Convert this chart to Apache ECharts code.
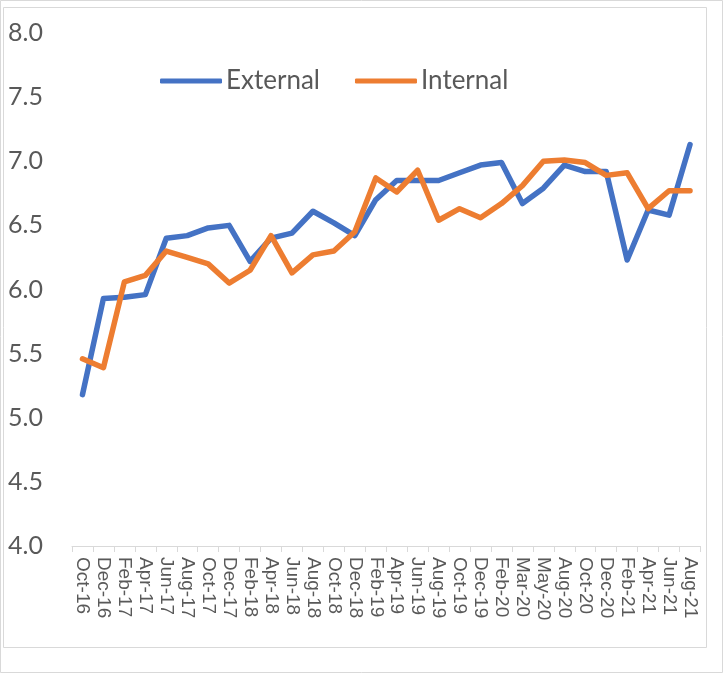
<!DOCTYPE html>
<html>
<head>
<meta charset="utf-8">
<script src="https://cdn.jsdelivr.net/npm/echarts@6/dist/echarts.min.js"></script>
<style>html,body{margin:0;padding:0;background:#fff}#c{width:723px;height:674px}</style>
</head>
<body>
<div id="c"></div>
<script>
var categories = ['Oct-16','Dec-16','Feb-17','Apr-17','Jun-17','Aug-17','Oct-17','Dec-17','Feb-18','Apr-18','Jun-18','Aug-18','Oct-18','Dec-18','Feb-19','Apr-19','Jun-19','Aug-19','Oct-19','Dec-19','Feb-20','Mar-20','May-20','Aug-20','Oct-20','Dec-20','Feb-21','Apr-21','Jun-21','Aug-21'];
var external = [5.18,5.93,5.94,5.96,6.40,6.42,6.48,6.50,6.22,6.40,6.44,6.61,6.52,6.42,6.70,6.85,6.85,6.85,6.91,6.97,6.99,6.67,6.79,6.97,6.92,6.92,6.23,6.62,6.58,7.13];
var internal = [5.46,5.39,6.06,6.11,6.30,6.25,6.20,6.05,6.15,6.42,6.13,6.27,6.30,6.45,6.87,6.76,6.93,6.54,6.63,6.56,6.67,6.81,7.00,7.01,6.99,6.89,6.91,6.63,6.77,6.77];
var yTicks = {min: 4.0, max: 8.0, interval: 0.5};

var chart = echarts.init(document.getElementById('c'));
chart.setOption({
  animation: false,
  backgroundColor: '#fff',
  graphic: [
    {type:'rect', shape:{x:0.5,y:0.5,width:722,height:672}, style:{fill:'none', stroke:'#d9d9d9', lineWidth:1}, silent:true},
    {type:'rect', shape:{x:3.5,y:7.5,width:703,height:640}, style:{fill:'none', stroke:'#d9d9d9', lineWidth:1}, silent:true}
  ],
  legend: {
    left: 160, top: 68, padding: 0,
    itemWidth: 62, itemHeight: 5, itemGap: 35,
    icon: 'roundRect',
    textStyle: {fontFamily: 'Lato', fontSize: 26, color: '#595959', padding:[0,0,0,-1]},
    data: [{name:'External', itemStyle:{color:'#4472C4'}}, {name:'Internal', itemStyle:{color:'#ED7D31'}}]
  },
  grid: {left: 72, right: 22.5, top: 33, bottom: 128, containLabel: false},
  xAxis: {
    type: 'category',
    data: categories,
    boundaryGap: true,
    axisLine: {show: true, lineStyle: {color: '#d9d9d9', width: 1}},
    axisTick: {show: true, length: 6, lineStyle: {color: '#d9d9d9'}},
    axisLabel: {interval: 0, rotate: -90, margin: 11, fontFamily: 'Liberation Sans', fontSize: 19, color: '#595959'},
    splitLine: {show: false}
  },
  yAxis: {
    type: 'value',
    min: yTicks.min, max: yTicks.max, interval: yTicks.interval,
    axisLine: {show: false},
    axisTick: {show: false},
    splitLine: {show: false},
    axisLabel: {align: 'left', margin: 64, fontFamily: 'Lato', fontSize: 25, color: '#595959',
      formatter: function(v){ return v.toFixed(1); }}
  },
  series: [
    {name:'External', type:'line', data: external, symbol:'none', lineStyle:{color:'#4472C4', width:5.5, cap:'round', join:'round'}, itemStyle:{color:'#4472C4'}},
    {name:'Internal', type:'line', data: internal, symbol:'none', lineStyle:{color:'#ED7D31', width:5.5, cap:'round', join:'round'}, itemStyle:{color:'#ED7D31'}}
  ]
});
</script>
</body>
</html>
